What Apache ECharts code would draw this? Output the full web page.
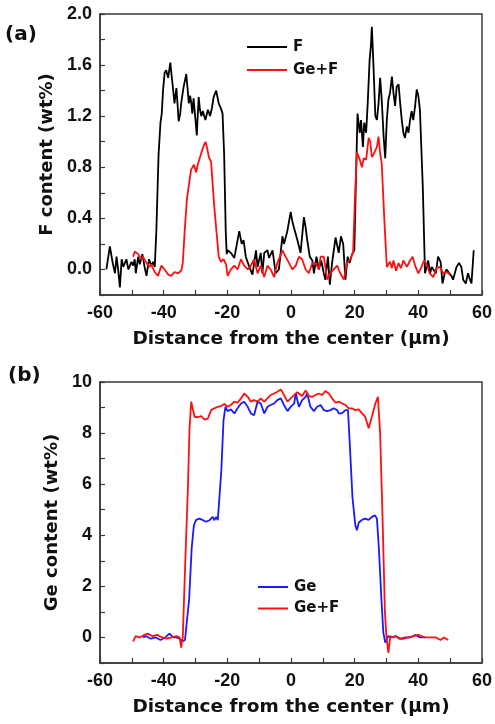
<!DOCTYPE html>
<html>
<head>
<meta charset="utf-8">
<script src="https://cdn.jsdelivr.net/npm/echarts@6/dist/echarts.min.js"></script>
<style>html,body{margin:0;padding:0;background:#fff}#c{width:495px;height:724px}</style>
</head>
<body>
<div id="c"></div>
<script>
// ---------- data (x in µm, value in wt%) ----------
var xTicksLabels = [-60, -40, -20, 0, 20, 40, 60];

// Panel (a): F
var fData = [
[-58.0,0.0],[-56.9,0.18],[-56.0,0.05],[-55.3,-0.03],[-54.8,0.1],[-54.3,0.0],[-53.75,-0.14],[-53.2,0.08],[-52.7,0.02],[-52.2,0.05],[-51.7,0.08],[-51.1,0.0],[-50.1,0.06],[-49.6,0.03],[-49.1,0.08],[-48.75,-0.03],[-48.0,0.1],[-47.5,0.04],[-46.7,0.12],[-46.0,0.02],[-45.4,-0.05],[-44.6,0.08],[-43.9,0.03],[-43.3,0.06],[-42.8,0.02],
[-42.3,0.3],[-41.6,0.9],[-41.0,1.15],[-40.6,1.22],[-40.2,1.4],[-39.7,1.54],[-39.2,1.56],[-38.6,1.5],[-37.9,1.62],[-37.6,1.54],[-37.2,1.45],[-36.6,1.3],[-36.0,1.42],[-35.6,1.28],[-35.3,1.16],[-34.8,1.22],[-34.5,1.3],[-33.8,1.42],[-32.9,1.53],[-32.5,1.42],[-32.1,1.3],[-31.7,1.36],[-31.3,1.3],[-31.0,1.22],[-30.6,1.34],[-30.0,1.17],[-29.6,1.05],[-29.3,1.2],[-29.0,1.35],[-28.6,1.25],[-28.2,1.2],[-27.7,1.24],[-26.9,1.17],[-26.1,1.25],[-25.4,1.2],[-24.8,1.27],[-24.3,1.35],[-23.5,1.4],[-23.1,1.35],[-22.7,1.3],[-22.0,1.26],[-21.5,1.22],[-21.0,0.9],[-20.5,0.3],[-20.2,0.12],
[-19.9,0.15],[-18.9,0.13],[-17.8,0.09],[-17.0,0.2],[-16.25,0.3],[-15.5,0.2],[-14.9,0.23],[-14.2,0.1],[-13.1,0.02],[-12.1,-0.04],[-11.0,0.15],[-10.5,0.02],[-9.5,0.13],[-9.0,-0.03],[-8.4,0.13],[-7.4,0.15],[-6.9,0.09],[-5.8,0.15],[-4.8,-0.03],[-3.8,0.0],[-2.7,0.26],[-2.2,0.2],[-1.15,0.3],[-0.1,0.45],[0.4,0.38],[0.9,0.33],[2.0,0.23],[3.0,0.13],[4.06,0.41],[4.6,0.33],[5.1,0.23],[5.9,0.1],[6.7,0.07],[7.2,-0.03],[8.0,0.1],[8.75,0.0],[9.5,0.07],[10.3,-0.03],[10.8,-0.08],[11.6,0.1],[12.2,-0.12],[12.9,0.05],[14.0,0.25],[15.0,0.13],[15.7,0.26],[16.4,0.2],[17.1,-0.08],[17.8,0.1],[18.4,0.05],[19.2,0.12],[19.9,0.15],
[20.4,0.7],[20.9,1.22],[21.6,1.07],[22.0,1.17],[22.6,0.96],[23.0,1.15],[23.6,1.07],[24.1,1.3],[24.7,1.64],[25.1,1.75],[25.4,1.9],[25.9,1.6],[26.5,1.2],[27.0,1.17],[27.5,1.3],[28.0,1.5],[28.5,1.33],[29.1,1.04],[29.6,0.87],[30.1,1.17],[30.6,1.33],[31.1,1.38],[31.7,1.51],[32.2,1.38],[32.7,1.28],[33.2,1.43],[33.8,1.45],[34.3,1.3],[34.8,1.17],[35.3,1.07],[35.8,1.03],[36.4,1.12],[36.9,1.07],[37.4,1.17],[37.9,1.24],[38.4,1.17],[39.0,1.28],[39.5,1.41],[40.0,1.36],[40.5,1.25],[41.4,0.65],
[42.1,-0.03],[42.6,0.02],[43.1,0.07],[43.7,-0.03],[44.2,0.02],[44.7,0.03],[45.5,-0.03],[46.2,0.1],[47.0,0.06],[47.6,-0.11],[48.3,-0.03],[48.9,0.0],[49.7,-0.03],[50.4,-0.05],[50.9,-0.08],[52.0,0.02],[52.8,0.05],[53.5,0.02],[54.1,-0.08],[54.9,-0.11],[55.6,-0.03],[56.1,-0.07],[56.7,-0.11],[57.4,0.15]
];

// Panel (a): Ge+F
var gfTopData = [
[-49.6,0.1],[-49.1,0.14],[-48.0,0.12],[-47.0,0.08],[-46.5,0.1],[-45.4,0.05],[-44.4,0.02],[-43.9,0.04],[-42.8,-0.02],[-41.8,-0.05],[-40.7,0.03],[-39.7,0.0],[-38.6,-0.04],[-37.6,-0.05],[-36.6,-0.02],[-35.5,-0.03],[-34.5,-0.01],[-34.0,0.05],
[-33.4,0.3],[-32.7,0.55],[-31.4,0.78],[-30.5,0.82],[-29.8,0.76],[-29.3,0.82],[-28.2,0.91],[-27.7,0.95],[-26.9,1.0],[-26.5,0.97],[-25.8,0.88],[-25.1,0.84],[-24.1,0.49],[-22.7,0.1],[-22.0,0.06],[-21.2,0.08],[-20.4,0.04],
[-19.9,-0.05],[-18.9,0.0],[-17.8,0.03],[-16.8,0.0],[-15.7,0.08],[-14.7,0.03],[-13.6,0.0],[-12.6,0.03],[-11.6,0.08],[-10.5,-0.03],[-9.5,0.03],[-8.4,-0.06],[-7.4,0.03],[-6.4,0.0],[-5.3,-0.06],[-4.3,0.05],[-2.7,0.15],[-1.7,0.1],[-0.6,0.05],[0.4,0.0],[1.5,0.03],[2.5,0.1],[3.5,0.08],[4.6,0.0],[5.6,-0.03],[6.7,0.05],[7.7,0.05],[8.75,0.0],[9.3,0.1],[10.3,0.1],[11.4,-0.08],[12.4,-0.03],[13.4,0.0],[14.5,0.03],[15.5,-0.03],[16.6,-0.08],[17.6,0.05],[18.6,0.08],[19.5,0.13],
[20.0,0.5],[20.7,0.92],[21.6,0.86],[22.3,0.8],[22.8,0.87],[23.6,0.86],[24.4,1.03],[24.9,1.0],[25.4,0.88],[25.9,0.9],[27.0,0.96],[27.5,1.04],[28.0,0.91],[28.5,0.83],[29.3,0.4],[30.1,0.02],
[31.1,0.06],[31.7,0.01],[32.2,0.07],[33.0,-0.01],[33.8,0.05],[34.5,0.01],[35.3,0.07],[36.4,0.02],[37.4,0.07],[38.2,0.1],[39.0,0.03],[40.0,-0.03],[41.0,0.02],[41.8,0.07],[42.6,0.04],[43.6,-0.03],[44.7,-0.06],[45.7,0.01],[46.8,0.02],[47.8,-0.03],[48.9,-0.02],[49.9,-0.04]
];

// Panel (b): Ge
var geData = [
[-46.5,0.0],[-45.5,0.05],[-44.0,-0.05],[-42.5,0.0],[-41.0,-0.1],[-39.5,0.0],[-38.2,0.15],[-37.0,0.0],[-36.0,0.0],[-35.0,-0.05],[-34.0,-0.15],[-33.3,-0.1],
[-32.8,-0.1],[-32.0,1.5],[-31.2,3.5],[-30.5,4.4],[-29.8,4.6],[-28.8,4.65],[-27.8,4.6],[-26.7,4.53],[-25.6,4.59],[-24.6,4.72],[-24.1,4.59],[-23.5,4.72],[-23.0,4.59],[-22.5,4.65],[-21.9,6.5],[-21.2,8.5],
[-20.6,9.03],[-19.9,8.86],[-18.9,8.93],[-17.8,8.77],[-16.8,8.97],[-15.7,9.16],[-14.7,9.23],[-13.6,9.03],[-12.6,8.77],[-11.6,8.7],[-10.5,9.23],[-9.5,9.16],[-8.4,8.77],[-7.4,9.03],[-6.4,9.1],[-5.3,9.16],[-4.3,9.29],[-3.2,9.36],[-2.2,9.1],[-1.1,8.86],[-0.1,9.03],[1.0,9.16],[1.5,9.55],[2.5,9.03],[3.5,9.29],[4.6,9.42],[5.1,9.55],[6.1,9.03],[7.2,8.86],[8.2,9.03],[9.3,9.1],[10.3,8.9],[11.4,8.86],[12.4,8.9],[13.4,8.97],[14.5,8.9],[15.0,8.77],[16.0,8.77],[17.1,8.9],[17.9,8.9],
[18.5,7.5],[19.3,5.5],[20.2,4.4],[20.7,4.2],[21.3,4.5],[22.3,4.6],[23.3,4.65],[24.4,4.6],[25.4,4.72],[26.4,4.78],[27.0,4.65],[27.6,3.5],[28.4,1.5],[29.0,0.2],[29.6,-0.2],
[30.5,0.05],[31.5,0.0],[33.0,0.05],[34.5,-0.05],[36.0,0.0],[37.5,0.0],[39.2,0.1],[40.5,0.0],[42.1,0.0]
];

// Panel (b): Ge+F
var gfBotData = [
[-49.6,-0.15],[-48.8,0.05],[-47.5,0.0],[-46.0,0.1],[-45.0,0.15],[-43.5,0.05],[-42.0,0.1],[-40.5,0.0],[-39.0,-0.05],[-37.5,0.0],[-36.0,0.05],[-35.0,0.0],[-34.5,-0.4],[-34.0,0.0],
[-33.2,3.0],[-32.4,5.8],[-31.9,8.1],[-31.35,9.23],[-30.3,8.64],[-29.3,8.62],[-28.2,8.67],[-27.2,8.53],[-26.1,8.57],[-25.1,8.9],[-24.1,8.97],[-23.0,9.03],[-22.0,9.06],[-20.9,9.14],[-19.9,9.03],[-18.9,9.1],[-17.8,9.23],[-16.8,9.19],[-15.7,9.36],[-14.7,9.55],[-13.6,9.42],[-12.6,9.23],[-11.6,9.29],[-10.5,9.23],[-9.5,9.36],[-8.4,9.23],[-7.4,9.36],[-6.4,9.49],[-5.3,9.55],[-4.3,9.62],[-3.2,9.71],[-2.2,9.49],[-1.1,9.23],[-0.1,9.36],[1.0,9.49],
[2.0,9.6],[3.5,9.45],[4.6,9.67],[5.6,9.45],[6.7,9.42],[7.7,9.49],[8.75,9.55],[9.8,9.49],[10.8,9.65],[11.9,9.55],[12.9,9.36],[14.0,9.19],[15.0,9.23],[16.1,9.16],[17.1,9.1],[18.1,8.97],[19.2,8.97],[20.2,8.9],[21.3,8.93],[22.3,8.77],[23.3,8.64],[24.4,8.19],[25.4,8.64],[26.5,9.16],[27.3,9.42],[28.0,8.0],
[28.8,4.5],[29.5,1.0],[30.0,0.0],[30.6,-0.6],[31.2,0.05],[32.0,0.0],[33.0,0.05],[34.0,-0.05],[35.5,-0.05],[37.0,0.0],[38.5,0.05],[40.0,0.1],[41.0,0.05],[42.0,0.0],[43.0,0.0],[44.0,0.0],[45.5,0.0],[47.0,-0.1],[48.0,0.0],[49.4,-0.1]
];

// ---------- chart ----------
var FONT = 'Liberation Sans, Arial, sans-serif';
var WFONT = 'DejaVu Sans, Verdana, sans-serif';
var axisColor = '#3a3a3a';
var txt = '#111';
function xAxisCfg(gi) {
  return {
    type: 'value', gridIndex: gi, min: -60, max: 60, interval: 10,
    name: 'Distance from the center (\u03bcm)', nameLocation: 'middle', nameGap: 35,
    nameTextStyle: { fontFamily: WFONT, fontWeight: 'bold', fontSize: 18.5, color: txt },
    axisLine: { show: true, onZero: false, lineStyle: { color: axisColor, width: 1.5 } },
    axisTick: { show: true, inside: true, length: 5, lineStyle: { color: axisColor, width: 1.2 } },
    axisLabel: {
      show: true, margin: 9, showMinLabel: true, showMaxLabel: true,
      fontFamily: FONT, fontWeight: 'bold', fontSize: 18, color: txt,
      formatter: function (v) { return xTicksLabels.indexOf(Math.round(v)) >= 0 ? String(Math.round(v)) : ''; }
    },
    splitLine: { show: false }
  };
}
var option = {
  animation: false,
  backgroundColor: '#fff',
  grid: [
    { left: 100, top: 14, width: 383, height: 281, show: true, borderColor: axisColor, borderWidth: 1.5 },
    { left: 100, top: 382, width: 383, height: 281, show: true, borderColor: axisColor, borderWidth: 1.5 }
  ],
  xAxis: [xAxisCfg(0), xAxisCfg(1)],
  yAxis: [
    {
      type: 'value', gridIndex: 0, min: -0.2, max: 2.0, interval: 0.2,
      name: 'F content (wt%)', nameLocation: 'middle', nameGap: 44,
      nameTextStyle: { fontFamily: WFONT, fontWeight: 'bold', fontSize: 18, color: txt },
      axisLine: { show: true, onZero: false, lineStyle: { color: axisColor, width: 1.5 } },
      axisTick: { show: true, inside: true, length: 5, lineStyle: { color: axisColor, width: 1.2 } },
      axisLabel: {
        margin: 8, showMinLabel: true, showMaxLabel: true,
        fontFamily: FONT, fontWeight: 'bold', fontSize: 18, color: txt,
        formatter: function (v) {
          var k = Math.round(v * 10);
          return (k >= 0 && k % 4 === 0) ? (k / 10).toFixed(1) : '';
        }
      },
      splitLine: { show: false }
    },
    {
      type: 'value', gridIndex: 1, min: -1, max: 10, interval: 1,
      name: 'Ge content (wt%)', nameLocation: 'middle', nameGap: 31,
      nameTextStyle: { fontFamily: WFONT, fontWeight: 'bold', fontSize: 18, color: txt },
      axisLine: { show: true, onZero: false, lineStyle: { color: axisColor, width: 1.5 } },
      axisTick: { show: true, inside: true, length: 5, lineStyle: { color: axisColor, width: 1.2 } },
      axisLabel: {
        margin: 8, showMinLabel: true, showMaxLabel: true,
        fontFamily: FONT, fontWeight: 'bold', fontSize: 18, color: txt,
        formatter: function (v) {
          var k = Math.round(v);
          return (k >= 0 && k % 2 === 0) ? String(k) : '';
        }
      },
      splitLine: { show: false }
    }
  ],
  legend: [
    {
      data: ['F', 'Ge+F'], orient: 'vertical', left: 247, top: 37, padding: 0,
      icon: 'rect', itemWidth: 40, itemHeight: 2, itemGap: 3, selectedMode: false,
      textStyle: { fontFamily: WFONT, fontWeight: 'bold', fontSize: 15, lineHeight: 20, color: txt, padding: [0, 0, 0, 1] }
    },
    {
      data: ['Ge', 'Ge+F'], orient: 'vertical', left: 258, top: 577, padding: 0,
      icon: 'rect', itemWidth: 30, itemHeight: 2, itemGap: 1.5, selectedMode: false,
      textStyle: { fontFamily: WFONT, fontWeight: 'bold', fontSize: 15, lineHeight: 20, color: txt, padding: [0, 0, 0, 1] }
    }
  ],
  graphic: [
    { type: 'text', left: 5, top: 25, style: { text: '(a)', fontFamily: WFONT, fontWeight: 'bold', fontSize: 20, fill: txt } },
    { type: 'text', left: 8, top: 366, style: { text: '(b)', fontFamily: WFONT, fontWeight: 'bold', fontSize: 20, fill: txt } }
  ],
  series: [
    { name: 'F', type: 'line', xAxisIndex: 0, yAxisIndex: 0, data: fData, symbol: 'none', color: '#000000', lineStyle: { width: 1.8, color: '#000000' }, z: 2 },
    { name: 'Ge+F', type: 'line', xAxisIndex: 0, yAxisIndex: 0, data: gfTopData, symbol: 'none', color: '#ff1010', lineStyle: { width: 1.8, color: '#ff1010' }, z: 3 },
    { name: 'Ge', type: 'line', xAxisIndex: 1, yAxisIndex: 1, data: geData, symbol: 'none', color: '#1a1aff', lineStyle: { width: 1.8, color: '#1a1aff' }, z: 2 },
    { name: 'Ge+F', type: 'line', xAxisIndex: 1, yAxisIndex: 1, data: gfBotData, symbol: 'none', color: '#ff1010', lineStyle: { width: 1.8, color: '#ff1010' }, z: 3 }
  ]
};
var chart = echarts.init(document.getElementById('c'), null, { renderer: 'canvas' });
chart.setOption(option);
</script>
</body>
</html>
